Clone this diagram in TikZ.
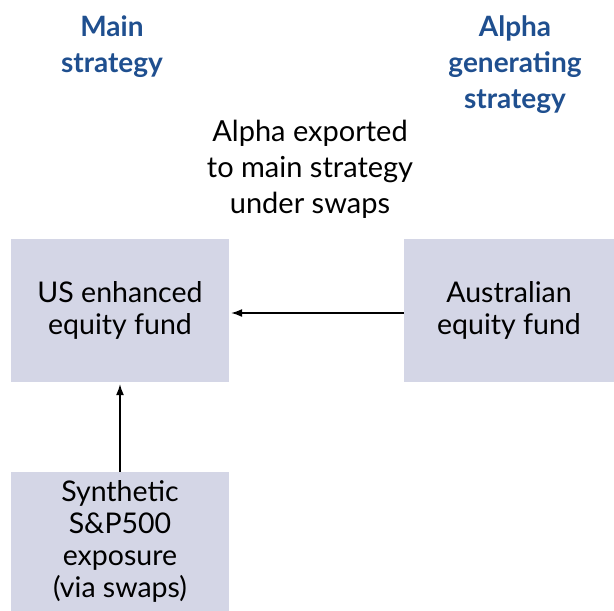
\documentclass[tikz,border=0pt]{standalone}
\usepackage{fontspec}
\setmainfont{Lato}
\usepackage{xcolor}
\usetikzlibrary{arrows.meta}
\definecolor{boxfill}{HTML}{D4D6E6}
\definecolor{headblue}{HTML}{1F4F8F}

\begin{document}
\begin{tikzpicture}[
    x                       = 1pt,
    y                       = -1pt,
    fundbox/.style          = {fill=boxfill, inner sep=0pt, align=center,
                               font=\fontsize{28.5}{32}\selectfont},
    heading/.style          = {align=center, text=headblue,
                               font=\fontsize{28}{36}\selectfont\bfseries},
    note/.style             = {align=center, font=\fontsize{29}{36}\selectfont},
    flow/.style             = {draw, line width=1.3pt, shorten >=2pt,
                               -{Latex[length=11pt,width=8pt]}}
  ]
\useasboundingbox (0,0) rectangle (614,611);
\node[heading] (mainhead)  at (112,47) {Main\\strategy};
\node[heading] (alphahead) at (515,65) {Alpha\\generating\\strategy};
\node[note]    (export)    at (310,169) {Alpha exported\\to main strategy\\under swaps};

\node[fundbox, minimum width=218pt, minimum height=143pt] (us)    at (120,310.5) {US enhanced\\equity fund};
\node[fundbox, minimum width=210pt, minimum height=143pt] (aus)   at (509,310.5) {Australian\\equity fund};
\node[fundbox, minimum width=218pt, minimum height=139pt] (synth) at (120,541.5) {Synthetic\\S\&P500\\exposure\\(via swaps)};

\draw[flow] ([yshift=-2.5pt]aus.west) -- ([yshift=-2.5pt]us.east);
\draw[flow] (synth.north) -- (us.south);
\end{tikzpicture}
\end{document}
